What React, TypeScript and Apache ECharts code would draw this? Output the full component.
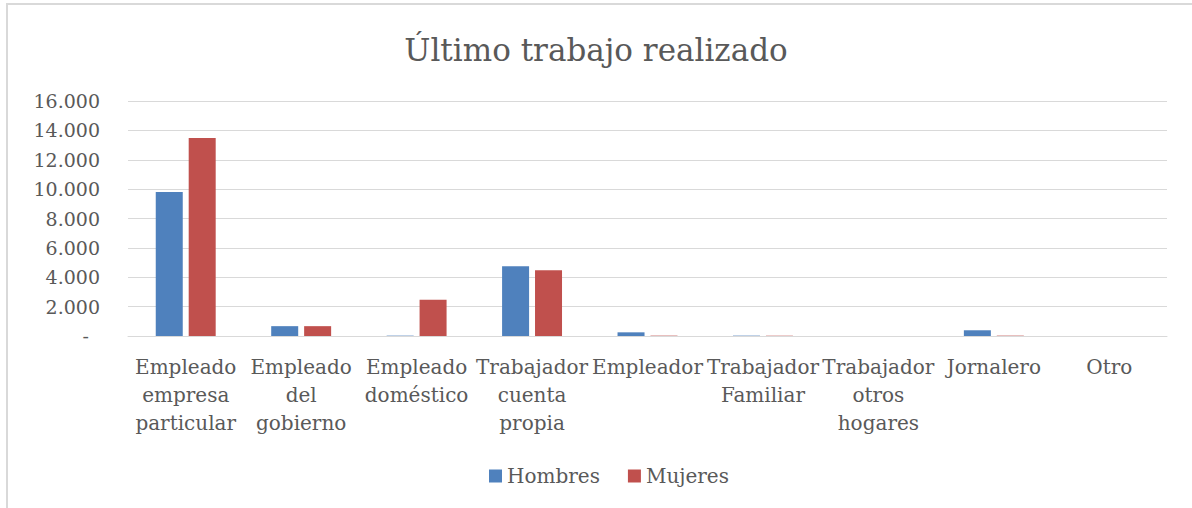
import React, { useEffect, useRef } from "react";
import * as echarts from "echarts";

const categories = [
  "Empleado\nempresa\nparticular",
  "Empleado\ndel\ngobierno",
  "Empleado\ndoméstico",
  "Trabajador\ncuenta\npropia",
  "Empleador",
  "Trabajador\nFamiliar",
  "Trabajador\notros\nhogares",
  "Jornalero",
  "Otro",
];
const hombres = [9800, 670, 25, 4750, 250, 25, 0, 390, 0];
const mujeres = [13480, 670, 2460, 4480, 25, 20, 0, 25, 0];
const seriesNames = ["Hombres", "Mujeres"];
const yTicks = { min: 0, max: 16000, interval: 2000 };

const FONT = "DejaVu Serif";
const TXT = "#595959";

function fmt(v: number): string {
  if (v === 0) return "{z|-}";
  return String(v).replace(/\B(?=(\d{3})+(?!\d))/g, ".");
}

export default function App() {
  const ref = useRef<HTMLDivElement>(null);
  useEffect(() => {
    document.body.style.margin = "0";
    const chart = echarts.init(ref.current!, null, { renderer: "svg" });
    chart.setOption({
      animation: false,
      backgroundColor: "#ffffff",
      title: {
        text: "Último trabajo realizado",
        left: "center",
        top: 29,
        textStyle: { fontFamily: FONT, fontSize: 31, fontWeight: "normal", color: TXT },
      },
      graphic: [
        {
          type: "polyline",
          shape: { points: [[7, 508], [7, 4], [1192, 4]] },
          style: { stroke: "#d9d9d9", lineWidth: 2, fill: "none" },
          silent: true,
        },
      ],
      legend: {
        data: seriesNames,
        left: 484,
        top: 461,
        icon: "rect",
        itemWidth: 13,
        itemHeight: 13,
        itemGap: 28,
        textStyle: { fontFamily: FONT, fontSize: 20, color: TXT },
      },
      grid: { left: 128, right: 25, top: 101, bottom: 172 },
      xAxis: {
        type: "category",
        data: categories,
        axisLine: { lineStyle: { color: "#d9d9d9", width: 1 } },
        axisTick: { show: false },
        axisLabel: {
          interval: 0,
          margin: 17,
          fontFamily: FONT,
          fontSize: 20,
          lineHeight: 28,
          color: TXT,
        },
      },
      yAxis: {
        type: "value",
        min: yTicks.min,
        max: yTicks.max,
        interval: yTicks.interval,
        axisLine: { show: false },
        axisTick: { show: false },
        splitLine: { lineStyle: { color: "#d9d9d9", width: 1 } },
        axisLabel: {
          margin: 28,
          fontFamily: FONT,
          fontSize: 19,
          color: TXT,
          formatter: fmt,
          rich: { z: { fontFamily: FONT, fontSize: 19, color: TXT, padding: [0, 11, 0, 0] } },
        },
      },
      series: [
        {
          name: seriesNames[0],
          type: "bar",
          data: hombres,
          barWidth: 27,
          barGap: "22%",
          itemStyle: { color: "#4F81BD" },
        },
        {
          name: seriesNames[1],
          type: "bar",
          data: mujeres,
          barWidth: 27,
          barGap: "22%",
          itemStyle: { color: "#C0504D" },
        },
      ],
    });
    return () => chart.dispose();
  }, []);
  return <div ref={ref} style={{ width: 1192, height: 508 }} />;
}
